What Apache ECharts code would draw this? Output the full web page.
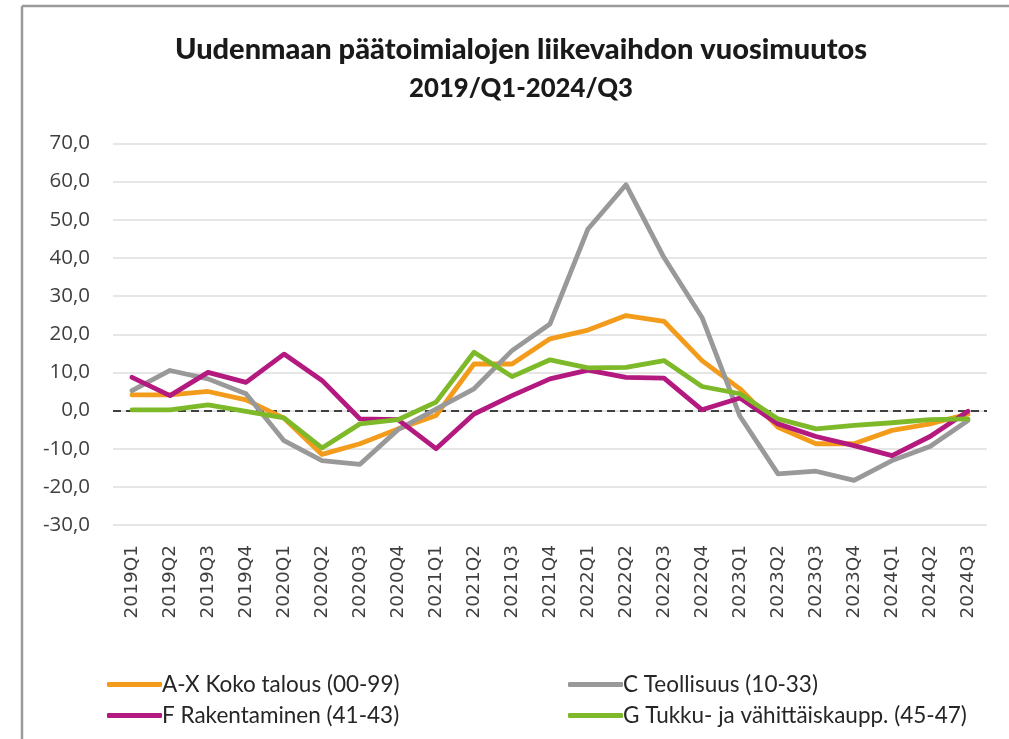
<!DOCTYPE html>
<html>
<head>
<meta charset="utf-8">
<script src="https://cdn.jsdelivr.net/npm/echarts@6/dist/echarts.min.js"></script>
<style>
    html, body { margin: 0; padding: 0; background: #fff; }
    #chart { width: 1009px; height: 739px; }
</style>
</head>
<body>
<div id="chart"></div>
<script>
// neljännekset 2019Q1 - 2024Q3
const quarters = [
    '2019Q1', '2019Q2', '2019Q3', '2019Q4',
    '2020Q1', '2020Q2', '2020Q3', '2020Q4',
    '2021Q1', '2021Q2', '2021Q3', '2021Q4',
    '2022Q1', '2022Q2', '2022Q3', '2022Q4',
    '2023Q1', '2023Q2', '2023Q3', '2023Q4',
    '2024Q1', '2024Q2', '2024Q3'
]
const seriesNames = [
    'A-X Koko talous (00-99)',
    'C Teollisuus (10-33)',
    'F Rakentaminen (41-43)',
    'G Tukku- ja vähittäiskaupp. (45-47)'
]
const kokoTalous = [4.1, 4.1, 5.0, 2.8, -2.0, -11.5, -8.7, -4.8, -1.3, 12.2, 12.2, 18.8,
    21.1, 24.9, 23.4, 13.1, 5.7, -4.4, -8.7, -8.7, -5.2, -3.5, -0.9]
const teollisuus = [5.2, 10.5, 8.3, 4.4, -7.9, -13.1, -14.1, -5.0, 0.4, 5.7, 15.7, 22.7,
    47.6, 59.2, 40.1, 24.4, -1.5, -16.6, -15.9, -18.3, -13.1, -9.4, -2.6]
const rakentaminen = [8.7, 3.9, 10.0, 7.4, 14.8, 7.9, -2.2, -2.4, -10.0, -0.9, 3.9, 8.3,
    10.6, 8.7, 8.5, 0.2, 3.3, -3.5, -6.8, -9.2, -11.8, -6.8, -0.2]
const kauppa = [0.2, 0.2, 1.5, -0.2, -1.9, -9.8, -3.5, -2.4, 2.2, 15.3, 8.9, 13.3,
    11.2, 11.3, 13.1, 6.3, 4.4, -2.2, -4.8, -3.9, -3.2, -2.4, -2.2]
const colors = ['#F39C1C', '#999999', '#B3197E', '#7DB928']

const chart = echarts.init(document.getElementById('chart'))

const lineSeries = (name, data, color) => ({
    name: name,
    type: 'line',
    data: data,
    color: color,
    symbol: 'none',
    lineStyle: { width: 4.8, color: color, cap: 'round', join: 'round' },
    z: 3
})

const legendBase = {
    orient: 'vertical',
    itemWidth: 55,
    itemHeight: 5,
    itemGap: 8,
    icon: 'roundRect',
    textStyle: { fontFamily: 'Lato', fontSize: 22.5, color: '#262626', padding: [0, 0, 0, -5] }
}

const options = {
    animation: false,
    backgroundColor: '#fff',
    grid: { left: 113, right: 22, top: 143.5, bottom: 214 },
    graphic: [
        // kehys
        { type: 'line', shape: { x1: 22, y1: 6, x2: 1009, y2: 6 }, style: { stroke: '#9a9a9a', lineWidth: 2.5 } },
        { type: 'line', shape: { x1: 22, y1: 6, x2: 22, y2: 739 }, style: { stroke: '#9a9a9a', lineWidth: 2.5 } },
        {
            type: 'text', x: 521, y: 50,
            style: {
                text: 'Uudenmaan päätoimialojen liikevaihdon vuosimuutos',
                font: '900 29px Lato', fill: '#1a1a1a', align: 'center', verticalAlign: 'middle'
            }
        },
        {
            type: 'text', x: 521, y: 89,
            style: {
                text: '2019/Q1-2024/Q3',
                font: '900 25.7px Lato', fill: '#1a1a1a', align: 'center', verticalAlign: 'middle'
            }
        }
    ],
    legend: [
        Object.assign({}, legendBase, { left: 102, top: 668, data: [seriesNames[0], seriesNames[2]] }),
        Object.assign({}, legendBase, { left: 563, top: 668, data: [seriesNames[1], seriesNames[3]] })
    ],
    xAxis: {
        type: 'category',
        data: quarters,
        boundaryGap: true,
        axisLine: { show: false },
        axisTick: { show: false },
        axisLabel: {
            rotate: 90,
            margin: 20,
            fontFamily: 'DejaVu Sans',
            fontSize: 18.5,
            color: '#404040'
        }
    },
    yAxis: {
        type: 'value',
        min: -30,
        max: 70,
        interval: 10,
        axisLine: { show: false },
        axisTick: { show: false },
        splitLine: { lineStyle: { color: '#dedede', width: 1.5 } },
        axisLabel: {
            margin: 23,
            fontFamily: 'Open Sans',
            fontSize: 20.5,
            color: '#404040',
            formatter: v => v.toFixed(1).replace('.', ',')
        }
    },
    series: [
        Object.assign(lineSeries(seriesNames[0], kokoTalous, colors[0]), {
            markLine: {
                silent: true,
                symbol: 'none',
                label: { show: false },
                lineStyle: { type: [8, 5], color: '#404040', width: 2 },
                data: [{ yAxis: 0 }],
                z: 2
            }
        }),
        lineSeries(seriesNames[1], teollisuus, colors[1]),
        lineSeries(seriesNames[2], rakentaminen, colors[2]),
        lineSeries(seriesNames[3], kauppa, colors[3])
    ]
}

chart.setOption(options)
window.addEventListener('resize', () => chart.resize())
</script>
</body>
</html>
